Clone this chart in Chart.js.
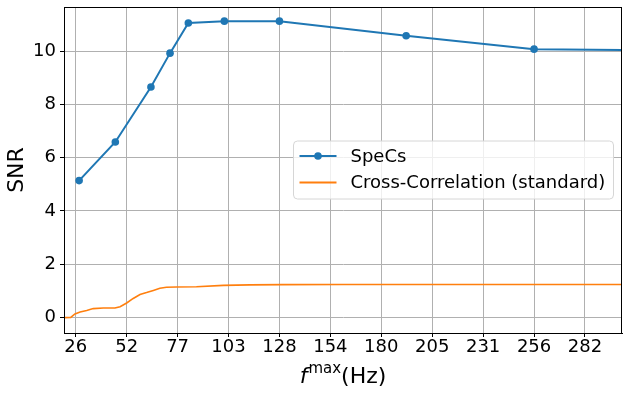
<!DOCTYPE html>
<html>
<head>
<meta charset="utf-8">
<script src="https://cdn.jsdelivr.net/npm/chart.js@4/dist/chart.umd.min.js"></script>
<style>
  html, body { margin: 0; padding: 0; background: #fff; }
  #wrap { position: relative; width: 628px; height: 395px; }
</style>
</head>
<body>
<div id="wrap"><canvas id="c" width="628" height="395"></canvas></div>
<script>
// ---- data ----
const specsX = [27.3, 45.5, 63.4, 73.0, 82.2, 100.3, 128, 191.7, 256, 512];
const specsY = [5.14, 6.59, 8.65, 9.92, 11.05, 11.12, 11.12, 10.57, 10.07, 9.90];

const ccX = [19.7, 23.1, 25.2, 27.8, 31.1, 34.4, 39.5, 45.3, 47.9, 51.2, 54.5, 57.9, 61.2, 64.6, 67.9, 71.2, 76.3, 86.3, 99.8, 113.2, 130, 160, 200, 250, 300.2];
const ccY = [0.00, 0.01, 0.14, 0.21, 0.27, 0.34, 0.36, 0.36, 0.41, 0.55, 0.72, 0.87, 0.94, 1.02, 1.10, 1.14, 1.15, 1.16, 1.21, 1.23, 1.24, 1.245, 1.245, 1.245, 1.245];

const xTickValues = [25.6, 51.2, 76.8, 102.4, 128, 153.6, 179.2, 204.8, 230.4, 256, 281.6];
const xTickLabels = ['26', '52', '77', '103', '128', '154', '180', '205', '231', '256', '282'];
const yTickValues = [0, 2, 4, 6, 8, 10];
const yTickLabels = ['0', '2', '4', '6', '8', '10'];

const seriesLabels = ['SpeCs', 'Cross-Correlation (standard)'];
const seriesColors = ['#1f77b4', '#ff7f0e'];

const FONT = "'DejaVu Sans', sans-serif";

const framePlugin = {
  id: 'frame',
  afterDatasetsDraw(chart) {
    const { ctx, chartArea: a } = chart;
    ctx.save();
    ctx.strokeStyle = '#000';
    ctx.lineWidth = 1;
    ctx.strokeRect(Math.round(a.left) + 0.5, Math.round(a.top) + 0.5, Math.round(a.right - a.left) - 1, Math.round(a.bottom - a.top));
    ctx.restore();
  }
};

const legendPlugin = {
  id: 'customLegend',
  afterDraw(chart) {
    const { ctx } = chart;
    const x0 = 293.5, y0 = 141, w = 320, h = 58, r = 4;
    ctx.save();
    ctx.beginPath();
    ctx.moveTo(x0 + r, y0);
    ctx.lineTo(x0 + w - r, y0);
    ctx.arcTo(x0 + w, y0, x0 + w, y0 + r, r);
    ctx.lineTo(x0 + w, y0 + h - r);
    ctx.arcTo(x0 + w, y0 + h, x0 + w - r, y0 + h, r);
    ctx.lineTo(x0 + r, y0 + h);
    ctx.arcTo(x0, y0 + h, x0, y0 + h - r, r);
    ctx.lineTo(x0, y0 + r);
    ctx.arcTo(x0, y0, x0 + r, y0, r);
    ctx.closePath();
    ctx.fillStyle = 'rgba(255,255,255,0.8)';
    ctx.fill();
    ctx.strokeStyle = '#d6d6d6';
    ctx.lineWidth = 1;
    ctx.stroke();

    const rows = [156, 182.5];
    chart.data.datasets.forEach((ds, i) => {
      const yc = rows[i];
      ctx.strokeStyle = ds.borderColor;
      ctx.lineWidth = 2;
      ctx.beginPath();
      ctx.moveTo(299.5, yc);
      ctx.lineTo(336.5, yc);
      ctx.stroke();
      if (ds.pointRadius > 0) {
        ctx.fillStyle = ds.borderColor;
        ctx.beginPath();
        ctx.arc(318, yc, 3.8, 0, Math.PI * 2);
        ctx.fill();
      }
      ctx.fillStyle = '#000';
      ctx.font = '18px ' + FONT;
      ctx.textBaseline = 'middle';
      ctx.textAlign = 'left';
      ctx.fillText(ds.label, 350.5, yc + 1);
    });
    ctx.restore();
  }
};

const xTitlePlugin = {
  id: 'xTitle',
  afterDraw(chart) {
    const { ctx, chartArea: a } = chart;
    ctx.save();
    ctx.fillStyle = '#000';
    ctx.textBaseline = 'alphabetic';
    ctx.textAlign = 'left';
    const fMain = 'italic 22px ' + FONT;
    const fSup = '15px ' + FONT;
    const fReg = '22px ' + FONT;
    ctx.font = fMain; const w1 = ctx.measureText('f').width;
    ctx.font = fSup; const w2 = ctx.measureText('max').width;
    ctx.font = fReg; const w3 = ctx.measureText('(Hz)').width;
    const total = w1 + 1 + w2 + w3;
    let x = (a.left + a.right) / 2 - total / 2;
    const base = 383;
    ctx.font = fMain; ctx.fillText('f', x, base); x += w1 + 1;
    ctx.font = fSup; ctx.fillText('max', x, base - 10); x += w2;
    ctx.font = fReg; ctx.fillText('(Hz)', x, base);
    ctx.restore();
  }
};

new Chart(document.getElementById('c'), {
  type: 'line',
  data: {
    datasets: [
      {
        label: seriesLabels[0],
        data: specsX.map((x, i) => ({ x, y: specsY[i] })),
        borderColor: seriesColors[0],
        backgroundColor: seriesColors[0],
        borderWidth: 2,
        pointRadius: 3.8,
        pointHoverRadius: 3.8,
        pointBorderWidth: 0,
        tension: 0,
        fill: false
      },
      {
        label: seriesLabels[1],
        data: ccX.map((x, i) => ({ x, y: ccY[i] })),
        borderColor: seriesColors[1],
        backgroundColor: seriesColors[1],
        borderWidth: 1.6,
        pointRadius: 0,
        tension: 0,
        fill: false
      }
    ]
  },
  options: {
    responsive: false,
    animation: false,
    events: [],
    layout: { padding: { top: 7, right: 6, left: 0, bottom: 0 } },
    plugins: {
      legend: { display: false },
      tooltip: { enabled: false }
    },
    scales: {
      x: {
        type: 'linear',
        min: 19.7,
        max: 300.2,
        afterBuildTicks: (s) => { s.ticks = xTickValues.map(v => ({ value: v })); },
        afterFit: (s) => { s.height = 62; s.paddingLeft = 0; s.paddingRight = 0; },
        ticks: {
          autoSkip: false,
          maxRotation: 0,
          color: '#000',
          font: { family: FONT, size: 18 },
          padding: 0,
          callback: (v, i) => xTickLabels[i]
        },
        grid: { color: '#b0b0b0', lineWidth: 1, tickColor: '#000', tickLength: 4 },
        border: { color: '#000', width: 1 }
      },
      y: {
        type: 'linear',
        min: -0.575,
        max: 11.65,
        afterBuildTicks: (s) => { s.ticks = yTickValues.map(v => ({ value: v })); },
        afterFit: (s) => { s.width = 64; s.paddingTop = 0; s.paddingBottom = 0; },
        ticks: {
          color: '#000',
          font: { family: FONT, size: 18 },
          padding: 4,
          callback: (v, i) => yTickLabels[i]
        },
        grid: { color: '#b0b0b0', lineWidth: 1, tickColor: '#000', tickLength: 4 },
        border: { color: '#000', width: 1 },
        title: {
          display: true,
          text: 'SNR',
          color: '#000',
          font: { family: FONT, size: 22 },
          padding: { top: 4, bottom: 0 }
        }
      }
    }
  },
  plugins: [framePlugin, legendPlugin, xTitlePlugin]
});
</script>
</body>
</html>
